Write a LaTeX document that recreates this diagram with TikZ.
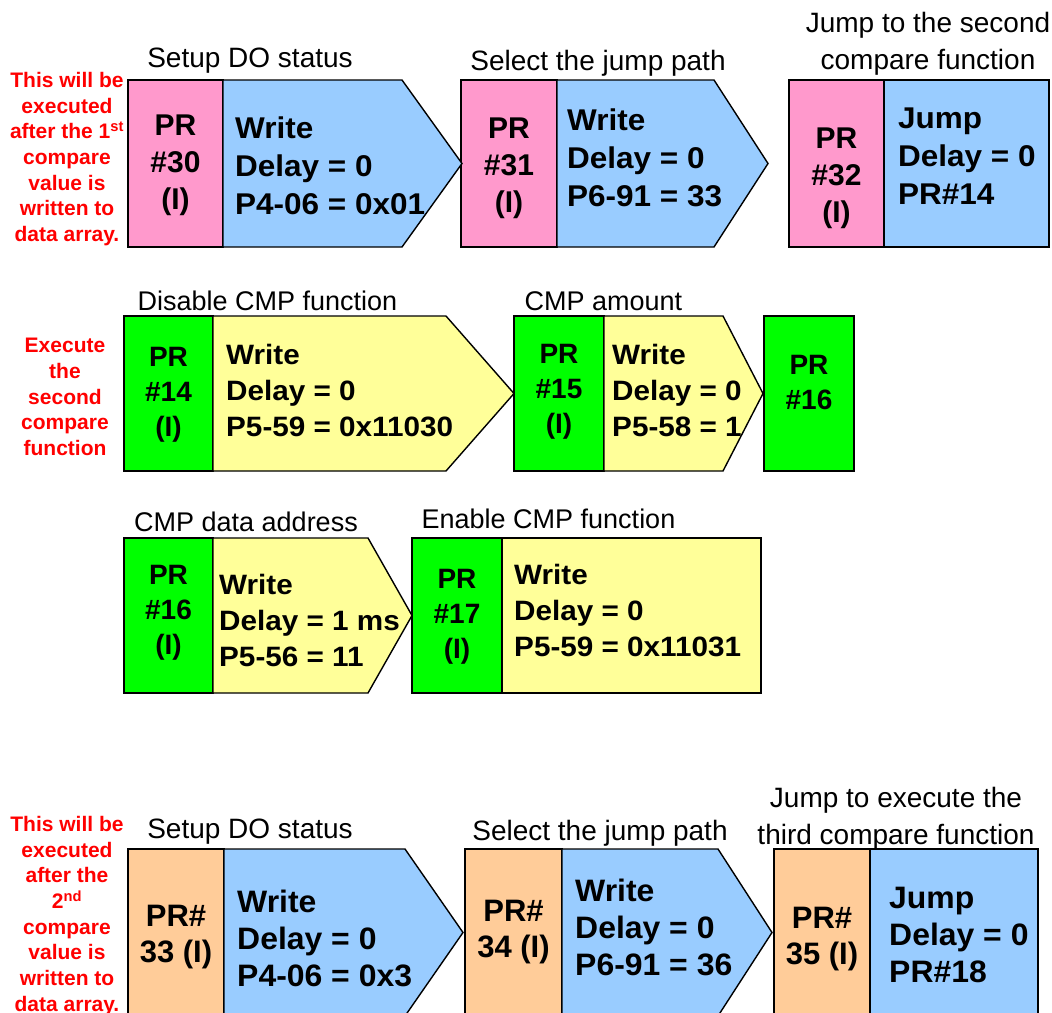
\documentclass[tikz,border=0pt]{standalone}
\usepackage{fontspec}
\setmainfont{Liberation Sans}
\usepackage{tikz}
\usepackage{xcolor}
\definecolor{prpink}{RGB}{255,153,204}
\definecolor{prblue}{RGB}{153,204,255}
\definecolor{prgreen}{RGB}{0,255,0}
\definecolor{pryellow}{RGB}{255,255,153}
\definecolor{prorange}{RGB}{255,204,153}
\definecolor{notered}{RGB}{255,0,0}

\begin{document}
\begin{tikzpicture}[x=1pt,y=-1pt,line join=miter,
  cell/.style={draw=black,line width=1.4pt},
  idbig/.style={inner sep=0pt,align=center,anchor=north,font=\bfseries\fontsize{30}{37}\selectfont},
  idmid/.style={inner sep=0pt,align=center,anchor=north,font=\bfseries\fontsize{28}{35}\selectfont},
  idlow/.style={inner sep=0pt,align=center,anchor=north,font=\bfseries\fontsize{31}{36}\selectfont},
  opbig/.style={inner sep=0pt,align=left,anchor=north west,font=\bfseries\fontsize{30}{38}\selectfont\addfontfeature{FakeStretch=1.05}},
  opmid/.style={inner sep=0pt,align=left,anchor=north west,font=\bfseries\fontsize{28}{36}\selectfont\addfontfeature{FakeStretch=1.06}},
  oplow/.style={inner sep=0pt,align=left,anchor=north west,font=\bfseries\fontsize{31}{37}\selectfont\addfontfeature{FakeStretch=1.03}},
  capbig/.style={inner sep=0pt,align=center,anchor=base,font=\fontsize{28}{37}\selectfont},
  capmid/.style={inner sep=0pt,align=center,anchor=base,font=\fontsize{27}{35}\selectfont},
  note/.style={inner sep=0pt,align=center,anchor=north,text=notered,font=\bfseries\fontsize{21}{25.7}\selectfont}]
  \useasboundingbox (0,0) rectangle (1052,1012);
  \clip (0,0) rectangle (1052,1012);

  \foreach \xa/\xb/\ya/\yb/\col in {128/223/80/247/prpink,461/557/80/247/prpink,789/884/80/247/prpink,
      124/213/316/471/prgreen,514/604/316/471/prgreen,764/854/316/471/prgreen,
      124/213/538/693/prgreen,412/502/538/693/prgreen,
      128/224/849/1016/prorange,465/562/849/1016/prorange,774/870/849/1016/prorange}
    {\filldraw[cell,fill=\col] (\xa,\ya) rectangle (\xb,\yb);}

  \filldraw[cell,fill=prblue] (223,80) -- (402,80) -- (462,163.5) -- (402,247) -- (223,247) -- cycle;
  \filldraw[cell,fill=prblue] (557,80) -- (714,80) -- (768,163.5) -- (714,247) -- (557,247) -- cycle;
  \filldraw[cell,fill=prblue] (884,80) rectangle (1049,247);
  \filldraw[cell,fill=pryellow] (213,316) -- (446,316) -- (514,393.5) -- (446,471) -- (213,471) -- cycle;
  \filldraw[cell,fill=pryellow] (604,316) -- (723,316) -- (763,393.5) -- (723,471) -- (604,471) -- cycle;
  \filldraw[cell,fill=pryellow] (213,538) -- (368,538) -- (412,615.5) -- (368,693) -- (213,693) -- cycle;
  \filldraw[cell,fill=pryellow] (502,538) rectangle (761,693);
  \filldraw[cell,fill=prblue] (224,849) -- (405,849) -- (463,932.5) -- (405,1016) -- (224,1016) -- cycle;
  \filldraw[cell,fill=prblue] (562,849) -- (718,849) -- (772,932.5) -- (718,1016) -- (562,1016) -- cycle;
  \filldraw[cell,fill=prblue] (870,849) rectangle (1038,1016);

  \node[note] (note1) at (67,72) {This will be\\executed\\after the 1\textsuperscript{st}\\compare\\value is\\written to\\data array.};
  \node[note] (note2) at (65,338) {Execute\\the\\second\\compare\\function};
  \node[note] (note3) at (67,816) {This will be\\executed\\after the\\2\textsuperscript{nd}\\compare\\value is\\written to\\data array.};

  \node[capbig] (cap30) at (250,67) {Setup DO status};
  \node[capbig] (cap31) at (598,70) {Select the jump path};
  \node[capbig,anchor=north] (cap32) at (928,12) {Jump to the second\\compare function};
  \node[capmid] (cap14) at (267.5,310) {Disable CMP function};
  \node[capmid] (cap15) at (603.5,310) {CMP amount};
  \node[capmid] (cap16) at (246,531) {CMP data address};
  \node[capmid] (cap17) at (548.5,528) {Enable CMP function};
  \node[capbig] (cap33) at (250,838) {Setup DO status};
  \node[capbig] (cap34) at (600,840) {Select the jump path};
  \node[capbig,anchor=north] (cap35) at (896,787) {Jump to execute the\\third compare function};

  \node[idbig] (pr30) at (175.5,115) {PR\\\#30\\(I)};
  \node[opbig] (op30) at (235,117) {Write\\Delay = 0\\P4-06 = 0x01};
  \node[idbig] (pr31) at (509,118) {PR\\\#31\\(I)};
  \node[opbig] (op31) at (567,109) {Write\\Delay = 0\\P6-91 = 33};
  \node[idbig] (pr32) at (836.5,128) {PR\\\#32\\(I)};
  \node[opbig] (op32) at (898,108) {Jump\\Delay = 0\\PR\#14};

  \node[idmid] (pr14) at (168.5,347) {PR\\\#14\\(I)};
  \node[opmid] (op14) at (226,344) {Write\\Delay = 0\\P5-59 = 0x11030};
  \node[idmid] (pr15) at (559,344) {PR\\\#15\\(I)};
  \node[opmid] (op15) at (612,344) {Write\\Delay = 0\\P5-58 = 1};
  \node[idmid] (pr16a) at (809,355) {PR\\\#16};

  \node[idmid] (pr16b) at (168.5,565) {PR\\\#16\\(I)};
  \node[opmid] (op16) at (219,574) {Write\\Delay = 1 ms\\P5-56 = 11};
  \node[idmid] (pr17) at (457,569) {PR\\\#17\\(I)};
  \node[opmid] (op17) at (514,564) {Write\\Delay = 0\\P5-59 = 0x11031};

  \node[idlow] (pr33) at (176,905) {PR\#\\33 (I)};
  \node[oplow] (op33) at (237,890) {Write\\Delay = 0\\P4-06 = 0x3};
  \node[idlow] (pr34) at (513.5,900) {PR\#\\34 (I)};
  \node[oplow] (op34) at (575,879) {Write\\Delay = 0\\P6-91 = 36};
  \node[idlow] (pr35) at (822,907) {PR\#\\35 (I)};
  \node[oplow] (op35) at (889,887) {Jump\\Delay = 0\\PR\#18};
\end{tikzpicture}
\end{document}
